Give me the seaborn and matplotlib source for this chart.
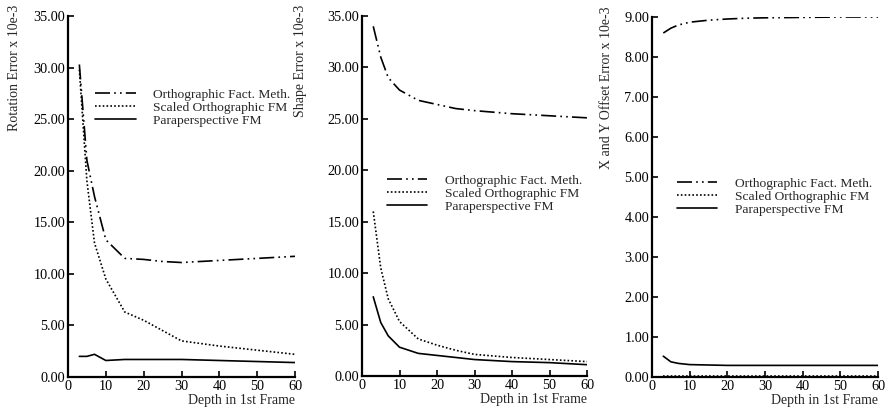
import matplotlib
matplotlib.use("Agg")
import matplotlib.pyplot as plt
import seaborn as sns
import numpy as np
from matplotlib.ticker import FormatStrFormatter, MultipleLocator

depth = [3, 5, 7, 10, 15, 20, 25, 30, 40, 50, 60]
labels = ["Orthographic Fact. Meth.", "Scaled Orthographic FM", "Paraperspective FM"]

rot_ortho = [30.3, 21.0, 17.5, 13.3, 11.5, 11.4, 11.2, 11.1, 11.3, 11.5, 11.7]
rot_scaled = [29.8, 19.0, 13.0, 9.5, 6.3, 5.5, 4.5, 3.5, 3.0, 2.6, 2.2]
rot_para = [2.0, 2.0, 2.2, 1.6, 1.7, 1.7, 1.7, 1.7, 1.6, 1.5, 1.4]

shape_ortho = [34.0, 31.0, 29.0, 27.8, 26.8, 26.4, 26.0, 25.8, 25.5, 25.3, 25.1]
shape_scaled = [16.0, 10.5, 7.5, 5.3, 3.6, 3.0, 2.5, 2.1, 1.8, 1.6, 1.4]
shape_para = [7.7, 5.2, 3.9, 2.8, 2.2, 2.0, 1.8, 1.6, 1.4, 1.3, 1.1]

off_ortho = [8.60, 8.72, 8.80, 8.87, 8.92, 8.95, 8.97, 8.98, 8.99, 9.00, 9.00]
off_scaled = [0.02, 0.02, 0.02, 0.02, 0.02, 0.02, 0.02, 0.02, 0.02, 0.02, 0.02]
off_para = [0.52, 0.38, 0.34, 0.31, 0.30, 0.29, 0.29, 0.29, 0.29, 0.29, 0.29]

ylabels = ["Rotation Error x 10e-3", "Shape Error x 10e-3", "X and Y Offset Error x 10e-3"]
xlabel = "Depth in 1st Frame"
ymaxes = [35, 35, 9]
ysteps = [5, 5, 1]

sns.set_style("ticks")
plt.rcParams["font.family"] = ["Liberation Serif", "DejaVu Serif"]
plt.rcParams["font.size"] = 9.5

fig = plt.figure(figsize=(8.89, 4.11), dpi=100)
rects = [
    [68 / 889, 1 - 377 / 411, 227 / 889, 361 / 411],
    [362 / 889, 1 - 376 / 411, 225 / 889, 360 / 411],
    [652 / 889, 1 - 377 / 411, 226 / 889, 360 / 411],
]
series = [
    (rot_ortho, rot_scaled, rot_para),
    (shape_ortho, shape_scaled, shape_para),
    (off_ortho, off_scaled, off_para),
]
styles = [(0, (9, 2.5, 1, 2.5, 1, 2.5)), (0, (1, 1.3)), "-"]
legend_anchor = [(0.12, 0.80), (0.11, 0.56), (0.11, 0.555)]
ylab_x = [-0.207, -0.244, -0.173]

for i, ax_rect in enumerate(rects):
    ax = fig.add_axes(ax_rect)
    for vals, lab, ls in zip(series[i], labels, styles):
        sns.lineplot(x=depth, y=vals, ax=ax, color="black", lw=1.2,
                     linestyle=ls, label=lab)
    ax.set_xlim(0, 60)
    ax.set_ylim(0, ymaxes[i])
    ax.xaxis.set_major_locator(MultipleLocator(10))
    ax.yaxis.set_major_locator(MultipleLocator(ysteps[i]))
    ax.yaxis.set_major_formatter(FormatStrFormatter("%.2f"))
    for s in ["top", "right"]:
        ax.spines[s].set_visible(False)
    for s in ["left", "bottom"]:
        ax.spines[s].set_linewidth(1.6)
        ax.spines[s].set_color("black")
    ax.tick_params(direction="in", length=4, width=1.2, colors="black",
                   labelsize=10.3, pad=2)
    ax.set_xlabel(xlabel, loc="right", fontsize=10, labelpad=1)
    ax.set_ylabel(ylabels[i], loc="top", fontsize=10)
    ax.yaxis.set_label_coords(ylab_x[i], 1.03)
    ax.legend(loc="upper left", bbox_to_anchor=legend_anchor[i], frameon=False,
              fontsize=9.7, borderpad=0, borderaxespad=0, handlelength=3.0,
              handletextpad=1.3, labelspacing=0.05)

fig.savefig("out.png", dpi=100)
